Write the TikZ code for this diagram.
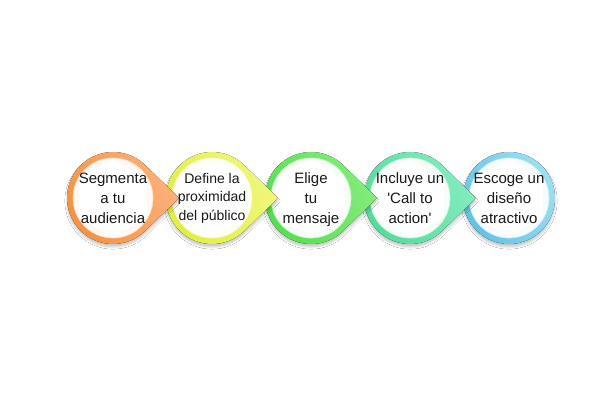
\documentclass[tikz,border=0pt]{standalone}
\usepackage{fontspec}
\setmainfont{Liberation Sans}
\usetikzlibrary{shadows.blur,calc}
\definecolor{orA}{HTML}{FBB27C}\definecolor{orB}{HTML}{F7913F}
\definecolor{yeA}{HTML}{F0F77E}\definecolor{yeB}{HTML}{E0EE40}
\definecolor{grA}{HTML}{86EC7E}\definecolor{grB}{HTML}{55DE4E}
\definecolor{tlA}{HTML}{86ECC0}\definecolor{tlB}{HTML}{52DB9C}
\definecolor{blA}{HTML}{9EDFF2}\definecolor{blB}{HTML}{62C3E3}
\tikzset{
  ringshape/.style n args={2}{left color=#1, right color=#2, shading angle=-60,
    blur shadow={shadow xshift=0pt, shadow yshift=-3pt, shadow blur steps=6, shadow opacity=22}},
  innerdisc/.style={fill=#1!6, draw=#1!30, line width=0.7pt},
  hexfill/.style={fill=white},
  label/.style={align=center, text=black!90, font=\fontsize{15}{20}\selectfont},
  labelsmall/.style={align=center, text=black!90, font=\fontsize{14}{18.5}\selectfont},
}
\newcommand{\stepshape}[4]{% center x, colA, colB, tip?
  \coordinate (c#1) at (#1pt,202pt);
  \ifnum#4=1
    \coordinate (tip#1) at ($(c#1)+(66pt,0)$);
    \fill[ringshape={#2}{#3}] (c#1) ++(45.8:46pt) arc[start angle=45.8, end angle=314.2, radius=46pt] -- (tip#1) -- cycle;
  \else
    \fill[ringshape={#2}{#3}] (c#1) circle[radius=46pt];
  \fi
  \filldraw[innerdisc=#3] (c#1) circle[radius=40pt];
  \fill[hexfill] (c#1) ++(90:39pt) -- ++(-150:39pt) -- ++(-90:39pt) -- ++(-30:39pt) -- ++(30:39pt) -- ++(90:39pt) -- cycle;
}
\begin{document}
\begin{tikzpicture}
\useasboundingbox[fill=white] (0,0) rectangle (600pt,400pt);
\stepshape{509}{blA}{blB}{0}
\stepshape{410}{tlA}{tlB}{1}
\stepshape{311}{grA}{grB}{1}
\stepshape{212}{yeA}{yeB}{1}
\stepshape{113}{orA}{orB}{1}
\node[label] (n1) at (c113) {Segmenta\\a tu\\audiencia};
\node[labelsmall] (n2) at (c212) {Define la\\proximidad\\del público};
\node[label] (n3) at ($(c311)+(0,-2pt)$) {Elige\\tu\\mensaje};
\node[label] (n4) at (c410) {Incluye un\\\textquotesingle Call to\\action\textquotesingle};
\node[label] (n5) at (c509) {Escoge un\\diseño\\atractivo};
\end{tikzpicture}
\end{document}
